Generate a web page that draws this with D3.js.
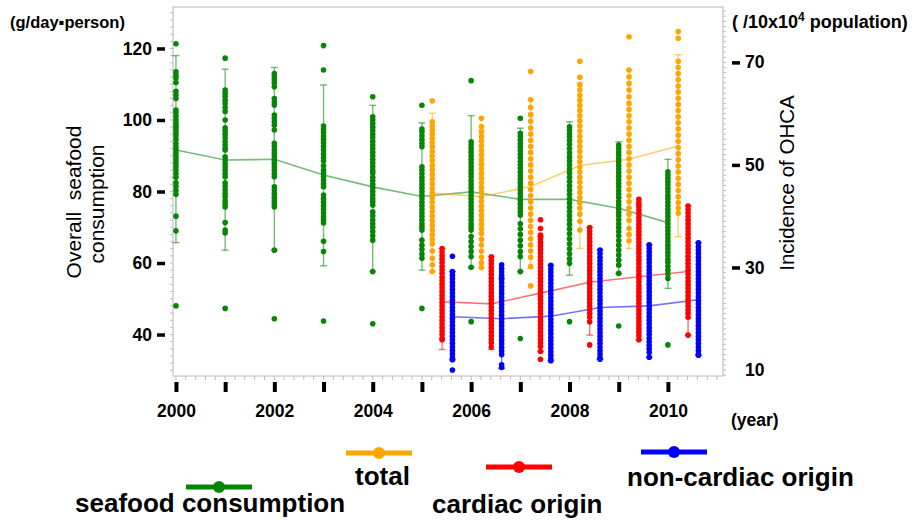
<!DOCTYPE html>
<html>
<head>
<meta charset="utf-8">
<script src="https://cdn.jsdelivr.net/npm/d3@7"></script>
<style>
  body { margin: 0; background: #fff; }
  text { font-family: "Liberation Sans", Arial, Helvetica, sans-serif; }
</style>
</head>
<body>
<div id="chart"></div>
<script>
// ---- data ----
var years = [2000, 2001, 2002, 2003, 2004, 2005, 2006, 2007, 2008, 2009, 2010];
var ohcaYears = [2005, 2006, 2007, 2008, 2009, 2010];
var xTickLabels = ["2000", "", "2002", "", "2004", "", "2006", "", "2008", "", "2010"];
var leftTicks = [40, 60, 80, 100, 120];
var rightTicks = [10, 30, 50, 70];

// seafood consumption (g/day・person), one list per year
var seafoodPoints = [
  [121.3,113.5,112.6,111.8,110.5,108,107,106,102.8,102,101,100,99,98.2,97.4,96.5,95.6,94.6,93.5,92.5,91.6,90.6,89.7,88.8,87.8,86.9,86,85,84,82.4,81.4,80.3,79.2,73.1,69,48],
  [117.3,108.4,107.5,106.6,105.5,104.6,103.5,102.4,100,97.8,97,96,95,94,93,92,91.6,89.7,88.8,87.8,86.9,86,85,84.1,82.4,81.4,80.4,79.4,78.5,77.5,76.6,75.7,71.3,69.2,68.4,47.3],
  [113,112.2,111.3,110.4,109.3,106,105,104.2,101.4,100.5,99.5,98.5,97.2,93.5,92.6,91.6,90.7,89.8,88.8,87.9,86.9,86,85,84.1,81.3,80.4,79.4,78.4,77.5,76.6,75.7,63.6,44.4],
  [120.8,114,98.3,97.4,96.5,95.5,94.6,93.6,92.6,91.6,90.5,89.5,88.5,87.2,86,85.2,84.2,83.2,82.2,81.3,79,78,77,76,75,74,73,72.1,71.2,66.1,63.2,43.8],
  [106.5,100.9,100,99,98,97,96,95,94,93,92,91,90,89,88,87,86,85.2,84,83,82,81,80,79,78,77.1,76.2,74.3,73.2,72,71,70,68.8,67.6,66.4,57.6,43],
  [104.1,97.5,96.7,95.6,94.5,93.5,92.5,86.9,86,85,84,83,82,81,80,79,78,77,76,75,74,73,72,71,70.1,69.2,66.4,65,63.8,62.5,61.3,47.3],
  [111,93.9,93,92,91,90,89,88,87,86,85.1,84.1,83,82,81,80,79,78,77,76,75,74,73,72,71,70.1,69.2,67.4,66,64.6,63.2,61.8,58.8,43.6],
  [100.5,96.3,95.4,94.4,93.4,92.4,91.4,90.4,89.4,88.4,87.4,86.4,85.4,84.4,83.4,82.4,81.4,80.4,79.4,78.4,77.4,76.4,75.4,74.4,73.4,71,69.6,68,66.4,64.8,63.2,61.8,57.6,38.9],
  [98.1,97.2,96.3,95.4,94.3,93.2,92,90.8,89.6,88.5,87.4,86.3,85.2,84,82.8,81.6,80.4,79.2,78,76.8,75.6,74.4,73.2,72,70.8,69.5,68.2,66.8,65.4,64,62.6,61.2,59.9,43.6],
  [93,92.1,91.1,90.2,89.2,88.3,87.3,86.3,85.3,84.3,83.3,82.3,81.3,80.3,79.3,78.3,77.2,76.2,75.2,74.2,73.2,72.1,71,69.9,68.8,67.6,66.3,65,63.6,62.2,60.8,59.4,57.1,42.4],
  [85.5,84.6,83.7,82.8,81.9,80.9,79.9,78.9,78,77,76,75,74,73,72,71,70,69,68,67,66,65,64,63,62,61,60.2,59.1,58,56.9,55.7,37.1]
];
var seafoodMean = [91.6, 88.8, 89.0, 84.6, 81.3, 78.6, 79.9, 77.8, 77.8, 75.3, 71.3];
var seafoodLow  = [65.7, 63.6, 63.6, 59.2, 57.6, 58.0, 58.8, 57.6, 56.6, 57.1, 52.9];
var seafoodHigh = [118, 114.2, 114.7, 109.8, 104.1, 99.2, 101.2, 97.7, 99.5, 93.9, 89];

// OHCA incidence (/10x10^4 population), 2005-2010
var totalPoints = [
  [62.5,58.4,57.6,56.8,56,55.2,54.3,53.5,52.6,51.7,50.8,49.9,49,48.1,47.2,46.3,45.4,44.5,43.6,42.7,41.8,40.9,40,39.1,38.2,37.3,36.4,35.5,34.6,33.2,31.8,30.5,29.2],
  [59.1,57.5,56.4,55.5,54.6,53.7,52.8,51.9,51,50.1,49.2,48.3,47.4,46.5,45.6,44.7,43.8,42.9,42,41.1,40.2,39.3,38.4,37.5,36.6,35.5,34.4,33.2,32,30.9,30],
  [68.2,62.7,61.2,59.8,58.5,57.2,56,54.8,53.6,52.4,51.2,50,48.8,47.6,46.4,45.2,44,42.8,41.6,40.4,39.2,38,36.8,35.6,34.4,33.2,32,30.2,26.4],
  [70.2,67.1,65.6,64.6,63.6,62.6,61.6,60.6,59.6,58.6,57.6,56.6,55.6,54.6,53.6,52.6,51.6,50.6,49.6,48.6,47.6,46.6,45.6,44.6,43.6,42.6,41.6,40.4,39,37.3],
  [75,68.5,67.2,65.9,64.6,63.3,62,60.8,59.6,58.4,57.2,56,54.8,53.6,52.4,51.2,50,48.8,47.6,46.4,45.2,44,42.8,41.6,40.4,39.2,37.6,36.4,35.2],
  [76,74.7,70.2,69,67.8,66.6,65.4,64.2,63,61.8,60.6,59.4,58.2,57,55.8,54.6,53.4,52.2,51,49.8,48.6,47.4,46.2,45,43.8,42.6,41.6,40.6]
];
var totalMean = [44.5, 43.8, 45.8, 49.9, 51.1, 53.7];
var totalLow  = [29.2, 30.0, 29.8, 33.7, 33.7, 36.0];
var totalHigh = [60.1, 56.8, 62.7, 66.1, 68.5, 71.5];

var cardiacPoints = [
  [33.7,33,32.3,31.6,30.9,30.2,29.5,28.8,28.1,27.4,26.7,26,25.3,24.6,23.9,23.2,22.5,21.8,21.1,20.4,19.7,19,18.3,17.6,16.9,16.2,15.9],
  [32.1,31.4,30.7,30,29.3,28.6,27.9,27.2,26.5,25.8,25.1,24.4,23.7,23,22.3,21.6,20.9,20.2,19.5,18.8,18.1,17.4,16.7,16,15.3,14.5],
  [39.3,37.6,36.3,35.6,34.9,34.2,33.5,32.8,32.1,31.4,30.7,30,29.3,28.6,27.9,27.2,26.5,25.8,25.1,24.4,23.7,23,22.3,21.6,20.9,20.2,19.5,18.8,18.1,17.4,16.7,16,15.3,14.6,13.6,12.1],
  [37.8,37.1,36.4,35.7,35,34.3,33.6,32.9,32.2,31.5,30.8,30.1,29.4,28.7,28,27.3,26.6,25.9,25.2,24.5,23.8,23.1,22.4,21.7,21,20.3,19.4,14.9],
  [43.3,42.6,41.9,41.2,40.5,39.8,39.1,38.4,37.7,37,36.3,35.6,34.9,34.2,33.5,32.8,32.1,31.4,30.7,30,29.3,28.6,27.9,27.2,26.5,25.8,25.1,24.4,23.7,23,22.3,21.6,20.9,20.2,19.5,18.8,18.1,17.4,16.7,15.9],
  [42,41.3,40.6,39.9,39.2,38.5,37.8,37.1,36.4,35.7,35,34.3,33.6,32.9,32.2,31.5,30.8,30.1,29.4,28.7,28,27.3,26.6,25.9,25.2,24.5,23.8,23.1,22.4,21.7,21,20.3,16.8]
];
var cardiacMean = [23.3, 22.9, 25.0, 27.1, 28.2, 29.2];
var cardiacLow  = [14.0, 14.0, 13.6, 16.8, 15.9, 16.8];
var cardiacHigh = [33.7, 32.1, 36.0, 37.8, 42.2, 42.0];

var noncardiacPoints = [
  [32.2,29.2,28.5,27.8,27.1,26.4,25.7,25,24.3,23.6,22.9,22.2,21.5,20.8,20.1,19.4,18.7,18,17.3,16.6,15.9,15.2,14.5,13.8,13.1,12.4,12,10],
  [30.5,29.8,29.1,28.4,27.7,27,26.3,25.6,24.9,24.2,23.5,22.8,22.1,21.4,20.7,20,19.3,18.6,17.9,17.2,16.5,15.8,15.1,14.4,13.7,13,11,10.5],
  [30.4,29.7,29,28.3,27.6,26.9,26.2,25.5,24.8,24.1,23.4,22.7,22,21.3,20.6,19.9,19.2,18.5,17.8,17.1,16.4,15.7,15,14.3,13.6,12.9,12.2,11.8],
  [33.4,32.7,32,31.3,30.6,29.9,29.2,28.5,27.8,27.1,26.4,25.7,25,24.3,23.6,22.9,22.2,21.5,20.8,20.1,19.4,18.7,18,17.3,16.6,15.9,15.2,14.5,13.8,13.1,12.4,12.1],
  [34.4,33.7,33,32.3,31.6,30.9,30.2,29.5,28.8,28.1,27.4,26.7,26,25.3,24.6,23.9,23.2,22.5,21.8,21.1,20.4,19.7,19,18.3,17.6,16.9,16.2,15.5,14.8,14.1,13.4,12.5],
  [34.8,34.1,33.4,32.7,32,31.3,30.6,29.9,29.2,28.5,27.8,27.1,26.4,25.7,25,24.3,23.6,22.9,22.2,21.5,20.8,20.1,19.4,18.7,18,17.3,16.6,15.9,15.2,14.5,13.8,13.1,12.9]
];
var noncardiacMean = [20.4, 20.0, 20.5, 22.2, 22.5, 23.7];
var noncardiacLow  = [12.0, 10.3, 11.8, 12.1, 12.5, 12.9];
var noncardiacHigh = [29.2, 27.9, 30.4, 33.4, 34.4, 34.8];

// ---- layout ----
var W = 918, H = 524;
var plot = {left: 173, top: 7, right: 723, bottom: 376};

var svg = d3.select("#chart")
  .append("svg")
    .attr("width", W)
    .attr("height", H);

var x = d3.scaleLinear().domain([1999.94, 2011.12]).range([plot.left, plot.right]);
var yL = d3.scaleLinear().domain([28.4, 131.6]).range([plot.bottom, plot.top]);
var yR = d3.scaleLinear().domain([8.83, 80.8]).range([plot.bottom, plot.top]);

// frame
svg.append("rect")
  .attr("x", plot.left).attr("y", plot.top)
  .attr("width", plot.right - plot.left).attr("height", plot.bottom - plot.top)
  .attr("fill", "none").attr("stroke", "#cfcfcf").attr("stroke-width", 1.5);

// little grey minor ticks round the frame
var minor = svg.append("g").attr("stroke", "#bdbdbd").attr("stroke-width", 1);
minor.selectAll(".ml").data(d3.range(30, 131, 2)).enter().append("line")
  .attr("x1", plot.left - 3).attr("x2", plot.left)
  .attr("y1", d => yL(d)).attr("y2", d => yL(d));
minor.selectAll(".mr").data(d3.range(9, 81, 1)).enter().append("line")
  .attr("x1", plot.right).attr("x2", plot.right + 3)
  .attr("y1", d => yR(d)).attr("y2", d => yR(d));
minor.selectAll(".mb").data(d3.range(2000, 2011.1, 0.2)).enter().append("line")
  .attr("x1", d => x(d)).attr("x2", d => x(d))
  .attr("y1", plot.bottom).attr("y2", plot.bottom + 4);

// axes
var axL = svg.append("g")
  .attr("transform", "translate(" + (plot.left - 8) + ",0)")
  .call(d3.axisLeft(yL).tickValues(leftTicks).tickSize(8).tickPadding(5));
var axR = svg.append("g")
  .attr("transform", "translate(" + (plot.right + 9) + ",0)")
  .call(d3.axisRight(yR).tickValues(rightTicks).tickSize(8).tickPadding(5));
var axB = svg.append("g")
  .attr("transform", "translate(0," + (plot.bottom + 6) + ")")
  .call(d3.axisBottom(x).tickValues(years).tickSize(10).tickPadding(13)
    .tickFormat((d, i) => xTickLabels[i]));

[axL, axR, axB].forEach(function(ax) {
  ax.select(".domain").remove();
  ax.selectAll(".tick text")
    .attr("fill", "#000")
    .style("font-size", "17.5px")
    .style("font-weight", "bold");
});
axL.selectAll(".tick line").attr("stroke", "#000").attr("stroke-width", 3.5);
axR.selectAll(".tick line").attr("stroke", "#000").attr("stroke-width", 3.5)
  .attr("display", d => d === 10 ? "none" : null);
axB.selectAll(".tick line").attr("stroke", "#000").attr("stroke-width", 4);

// series
var series = [
  {name: "seafood consumption", color: "#068506", y: yL, off: 0,    yrs: years,     pts: seafoodPoints,    mean: seafoodMean,    lo: seafoodLow,    hi: seafoodHigh},
  {name: "total",               color: "#ffa500", y: yR, off: 0.21, yrs: ohcaYears, pts: totalPoints,      mean: totalMean,      lo: totalLow,      hi: totalHigh},
  {name: "cardiac origin",      color: "#ff0000", y: yR, off: 0.41, yrs: ohcaYears, pts: cardiacPoints,    mean: cardiacMean,    lo: cardiacLow,    hi: cardiacHigh},
  {name: "non-cardiac origin",  color: "#0000ff", y: yR, off: 0.62, yrs: ohcaYears, pts: noncardiacPoints, mean: noncardiacMean, lo: noncardiacLow, hi: noncardiacHigh}
];

// mean lines underneath
series.forEach(function(s) {
  var line = d3.line()
    .x((d, i) => x(s.yrs[i] + s.off))
    .y(d => s.y(d));
  svg.append("path")
    .datum(s.mean)
    .attr("d", line)
    .attr("fill", "none")
    .attr("stroke", s.color)
    .attr("stroke-opacity", 0.55)
    .attr("stroke-width", 1.6);
});

// whiskers and dots
series.forEach(function(s) {
  var g = svg.append("g");
  s.yrs.forEach(function(yr, i) {
    var cx = x(yr + s.off);
    var eb = g.append("g")
      .attr("stroke", s.color)
      .attr("stroke-opacity", 0.55)
      .attr("stroke-width", 1.4);
    eb.append("line").attr("x1", cx).attr("x2", cx)
      .attr("y1", s.y(s.lo[i])).attr("y2", s.y(s.hi[i]));
    eb.append("line").attr("x1", cx - 3.5).attr("x2", cx + 3.5)
      .attr("y1", s.y(s.lo[i])).attr("y2", s.y(s.lo[i]));
    eb.append("line").attr("x1", cx - 3.5).attr("x2", cx + 3.5)
      .attr("y1", s.y(s.hi[i])).attr("y2", s.y(s.hi[i]));

    g.selectAll(null)
      .data(s.pts[i])
      .enter()
      .append("circle")
        .attr("cx", cx)
        .attr("cy", d => s.y(d))
        .attr("r", 2.8)
        .attr("fill", s.color);
  });
});

// axis titles
svg.append("text")
  .attr("x", 10).attr("y", 28)
  .style("font-size", "16.5px").style("font-weight", "bold")
  .text("(g/day\u25AAperson)");

var rt = svg.append("text")
  .attr("x", 732).attr("y", 28)
  .style("font-size", "18px").style("font-weight", "bold");
rt.append("tspan").text("( /10x10");
rt.append("tspan").attr("dy", -7).style("font-size", "12px").text("4");
rt.append("tspan").attr("dy", 7).text(" population)");

svg.append("text")
  .attr("transform", "translate(81,202) rotate(-90)")
  .attr("text-anchor", "middle")
  .style("font-size", "21px")
  .style("white-space", "pre")
  .text("Overall  seafood");
svg.append("text")
  .attr("transform", "translate(104,204) rotate(-90)")
  .attr("text-anchor", "middle")
  .style("font-size", "21px")
  .text("consumption");
svg.append("text")
  .attr("transform", "translate(794,183) rotate(-90)")
  .attr("text-anchor", "middle")
  .style("font-size", "20.5px")
  .text("Incidence of OHCA");

svg.append("text")
  .attr("x", 731).attr("y", 426)
  .style("font-size", "17.5px").style("font-weight", "bold")
  .text("(year)");

// legend
var legend = [
  {i: 0, lx: 186, ly: 487, tx: 75,  ty: 512},
  {i: 1, lx: 346, ly: 453, tx: 355, ty: 485},
  {i: 2, lx: 486, ly: 467, tx: 432, ty: 513},
  {i: 3, lx: 641, ly: 452, tx: 627, ty: 486}
];
legend.forEach(function(l) {
  var s = series[l.i];
  svg.append("line")
    .attr("x1", l.lx).attr("x2", l.lx + 66)
    .attr("y1", l.ly).attr("y2", l.ly)
    .attr("stroke", s.color).attr("stroke-width", 5);
  svg.append("circle")
    .attr("cx", l.lx + 33).attr("cy", l.ly).attr("r", 6)
    .attr("fill", s.color);
  svg.append("text")
    .attr("x", l.tx).attr("y", l.ty)
    .style("font-size", "26px").style("font-weight", "bold")
    .text(s.name);
});
</script>
</body>
</html>
